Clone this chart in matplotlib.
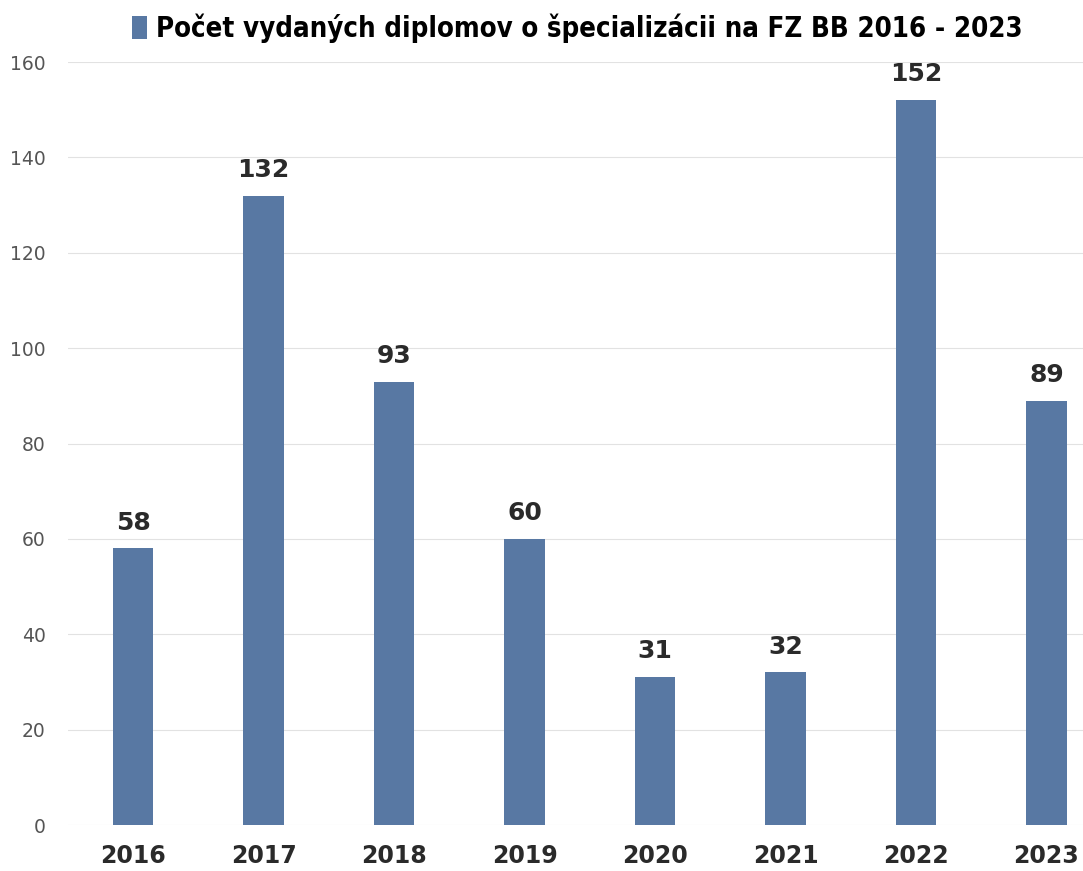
import matplotlib.pyplot as plt
from matplotlib.patches import Patch

years = ["2016", "2017", "2018", "2019", "2020", "2021", "2022", "2023"]
counts = [58, 132, 93, 60, 31, 32, 152, 89]
yticks = [0, 20, 40, 60, 80, 100, 120, 140, 160]
title = "Počet vydaných diplomov o špecializácii na FZ BB 2016 - 2023"

bar_color = "#5878a3"

fig = plt.figure(figsize=(10.83, 8.71), dpi=100)
ax = fig.add_axes([0.0628, 0.0528, 0.9372, 0.876])

x = range(len(years))
bars = ax.bar(x, counts, width=0.31, color=bar_color, zorder=3)
ax.bar_label(bars, labels=[str(v) for v in counts], padding=10,
             fontsize=18, fontweight="bold", color="#2a2a2a")

ax.set_xlim(-0.5, 7.28)
ax.set_ylim(0, 160)
ax.set_yticks(yticks)
ax.set_xticks(list(x))
ax.set_xticklabels(years, fontsize=17, fontweight="bold", color="#2a2a2a")
ax.tick_params(axis="y", labelsize=13.5, labelcolor="#555555", length=0, pad=16)
ax.tick_params(axis="x", length=0, pad=14)
ax.grid(axis="y", color="#e2e2e2", linewidth=0.8, zorder=0)
for s in ax.spines.values():
    s.set_visible(False)

handle = Patch(facecolor=bar_color)
fig.legend([handle], [title], loc="center", bbox_to_anchor=(0.533, 0.968),
           frameon=False, handlelength=0.55, handleheight=0.9, handletextpad=0.3,
           prop={"family": ["DejaVu Sans Condensed", "DejaVu Sans"],
                 "stretch": "condensed", "weight": "bold", "size": 19.8})

fig.savefig("out.png", dpi=100)
